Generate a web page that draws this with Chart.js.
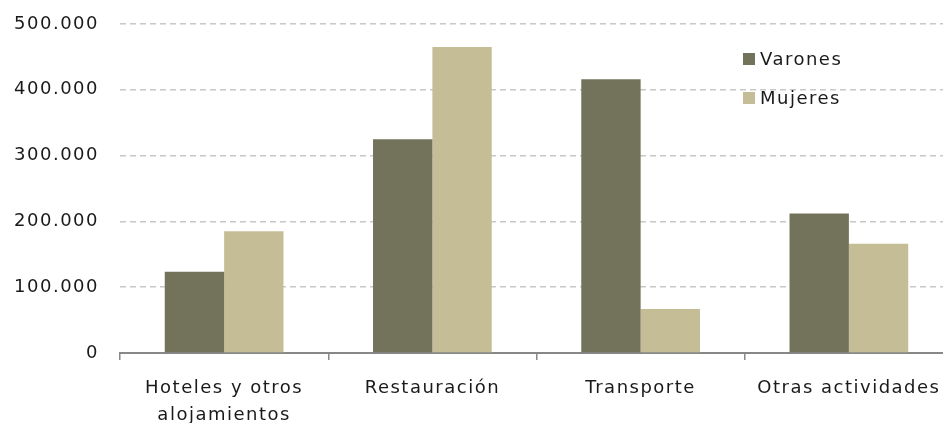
<!DOCTYPE html>
<html>
<head>
<meta charset="utf-8">
<script src="https://cdn.jsdelivr.net/npm/chart.js@4.4.0/dist/chart.umd.min.js"></script>
<style>
  html, body { margin: 0; padding: 0; background: #fff; overflow: hidden; }
  #wrap { width: 954px; height: 423px; position: relative; }
</style>
</head>
<body>
<div id="wrap"><canvas id="chart"></canvas></div>
<script>
// Data
const categories = [['Hoteles y otros', 'alojamientos'], 'Restauración', 'Transporte', 'Otras actividades'];
const varones = [123500, 325000, 416000, 212000];
const mujeres = [185000, 465000, 67000, 166000];
const yTicks = [0, 100000, 200000, 300000, 400000, 500000];

const darkColor = '#72735a';
const lightColor = '#c5bd96';

// Spaced-out text like the original (canvas resize resets it, so set it each pass)
const spacing = {
    id: 'spacing',
    beforeUpdate(chart) { chart.ctx.letterSpacing = '1.5px'; },
    beforeDraw(chart) { chart.ctx.letterSpacing = '1.5px'; }
};

// Legend drawn inside the plot, top right
const innerLegend = {
    id: 'innerLegend',
    afterDraw(chart) {
        const ctx = chart.ctx;
        ctx.save();
        ctx.font = '18px "DejaVu Sans"';
        ctx.textBaseline = 'middle';
        chart.data.datasets.forEach((ds, i) => {
            const y = 59 + i * 39;
            ctx.fillStyle = ds.backgroundColor;
            ctx.fillRect(743, y - 6, 12, 12);
            ctx.fillStyle = '#1a1a1a';
            ctx.fillText(ds.label, 760, y + 1);
        });
        ctx.restore();
    }
};

const ctx = document.getElementById('chart').getContext('2d');
const chart = new Chart(ctx, {
    type: 'bar',
    data: {
        labels: categories,
        datasets: [
            { label: 'Varones', data: varones, backgroundColor: darkColor },
            { label: 'Mujeres', data: mujeres, backgroundColor: lightColor }
        ]
    },
    options: {
        responsive: true,
        maintainAspectRatio: false,
        animation: false,
        layout: { padding: { top: 24, right: 1, left: 0, bottom: 0 } },
        datasets: { bar: { categoryPercentage: 0.57, barPercentage: 1 } },
        plugins: {
            legend: { display: false },
            tooltip: { enabled: false }
        },
        scales: {
            x: {
                grid: { display: true, drawOnChartArea: false, color: '#888', tickLength: 7, lineWidth: 1.5 },
                border: { display: true, color: '#888', width: 2 },
                ticks: {
                    color: '#1a1a1a',
                    font: { family: 'DejaVu Sans', size: 18, lineHeight: 1.5 },
                    padding: 15,
                    maxRotation: 0,
                    autoSkip: false
                },
                afterFit(scale) {
                    scale.height = 70;
                    scale.paddingLeft = 0;
                    scale.paddingRight = 0;
                }
            },
            y: {
                min: 0,
                max: 500000,
                afterBuildTicks(scale) { scale.ticks = yTicks.map(v => ({ value: v })); },
                grid: { color: '#c8c8c8', lineWidth: 1.5, drawTicks: false },
                border: { display: false, dash: [6, 4] },
                ticks: {
                    color: '#1a1a1a',
                    font: { family: 'DejaVu Sans', size: 18 },
                    padding: 21,
                    callback: v => v.toLocaleString('de-DE')
                },
                afterFit(scale) {
                    scale.width = 120;
                    scale.paddingTop = 0;
                    scale.paddingBottom = 0;
                }
            }
        }
    },
    plugins: [spacing, innerLegend]
});
</script>
</body>
</html>
